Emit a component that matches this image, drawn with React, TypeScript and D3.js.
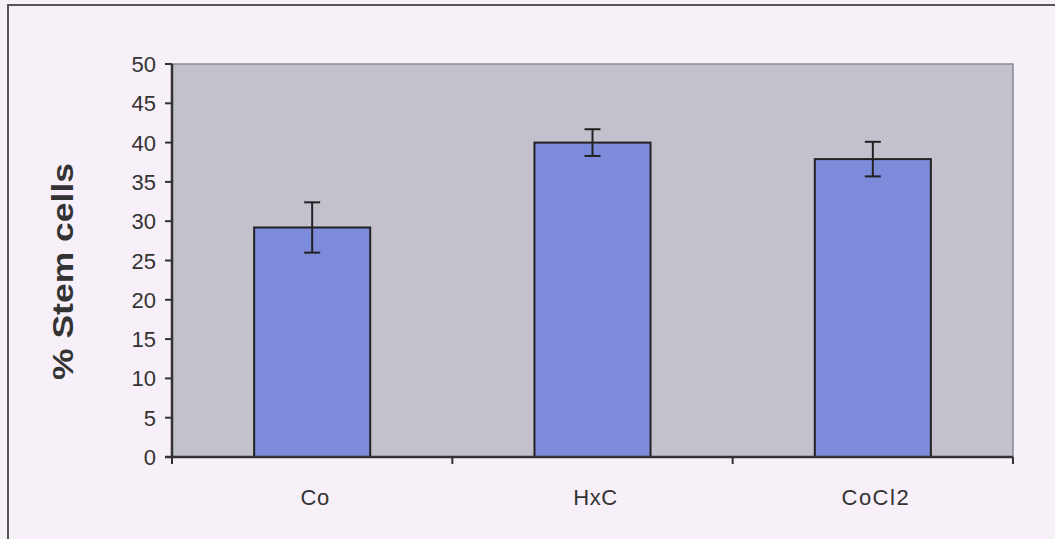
import React from 'react';
import * as d3 from 'd3';

const categories = ['Co', 'HxC', 'CoCl2'];
const means = [29.2, 40.0, 37.9];
const errors = [3.2, 1.7, 2.2];
const yTicks = [0, 5, 10, 15, 20, 25, 30, 35, 40, 45, 50];

const W = 1055;
const H = 539;
const plot = { left: 172, right: 1013, top: 64, bottom: 457 };

export default function App() {
  const x = d3.scaleBand<string>()
    .domain(categories)
    .range([plot.left, plot.right])
    .paddingInner(0.586)
    .paddingOuter(0.293);
  const y = d3.scaleLinear().domain([0, 50]).range([plot.bottom, plot.top]);

  // category boundaries for the x ticks
  const step = x.step();
  const xTickPos = d3.range(categories.length + 1).map(i => plot.left + i * (plot.right - plot.left) / categories.length);
  const capW = 16;

  return (
    <svg width={W} height={H} style={{ position: 'absolute', left: 0, top: 0 }}
      fontFamily="Liberation Sans, Arial, sans-serif">
      <rect x={0} y={0} width={W} height={H} fill="#f8f0f8" />
      {/* outer chart frame */}
      <path d={`M8,${H} L8,5 L${W},5`} fill="none" stroke="#555" strokeWidth={2} />

      {/* plot area */}
      <rect x={plot.left} y={plot.top} width={plot.right - plot.left} height={plot.bottom - plot.top}
        fill="#c3c2cc" stroke="#8a8a90" strokeWidth={1.5} />

      {/* bars */}
      {categories.map((c, i) => (
        <rect key={c} x={x(c)} y={y(means[i])} width={x.bandwidth()} height={y(0) - y(means[i])}
          fill="#7d8bdb" stroke="#222" strokeWidth={2} />
      ))}

      {/* error bars */}
      {categories.map((c, i) => {
        const cx = (x(c) as number) + x.bandwidth() / 2;
        const hi = y(means[i] + errors[i]);
        const lo = y(means[i] - errors[i]);
        return (
          <g key={c} stroke="#222" strokeWidth={2}>
            <line x1={cx} x2={cx} y1={hi} y2={lo} />
            <line x1={cx - capW / 2} x2={cx + capW / 2} y1={hi} y2={hi} />
            <line x1={cx - capW / 2} x2={cx + capW / 2} y1={lo} y2={lo} />
          </g>
        );
      })}

      {/* y axis */}
      <line x1={plot.left} x2={plot.left} y1={plot.top} y2={plot.bottom} stroke="#333" strokeWidth={2.5} />
      {yTicks.map(t => (
        <g key={t}>
          <line x1={plot.left - 7} x2={plot.left} y1={y(t)} y2={y(t)} stroke="#333" strokeWidth={2} />
          <text x={plot.left - 16} y={y(t) + 8} textAnchor="end" fontSize={22} fill="#333">{t}</text>
        </g>
      ))}

      {/* x axis */}
      <line x1={plot.left - 7} x2={plot.right} y1={plot.bottom} y2={plot.bottom} stroke="#333" strokeWidth={2.5} />
      {xTickPos.map((p, i) => (
        <line key={i} x1={p} x2={p} y1={plot.bottom} y2={plot.bottom + 7} stroke="#333" strokeWidth={2} />
      ))}
      {categories.map(c => (
        <text key={c} x={(x(c) as number) + x.bandwidth() / 2 + 3} y={505} textAnchor="middle"
          fontSize={22} fill="#333" letterSpacing={c === 'CoCl2' ? 1.5 : 0.5}>{c}</text>
      ))}

      {/* y label */}
      <text transform="translate(73,271.5) rotate(-90)" textAnchor="middle" fontSize={30} fontWeight="bold"
        fill="#333" textLength={217} lengthAdjust="spacingAndGlyphs">% Stem cells</text>
    </svg>
  );
}
